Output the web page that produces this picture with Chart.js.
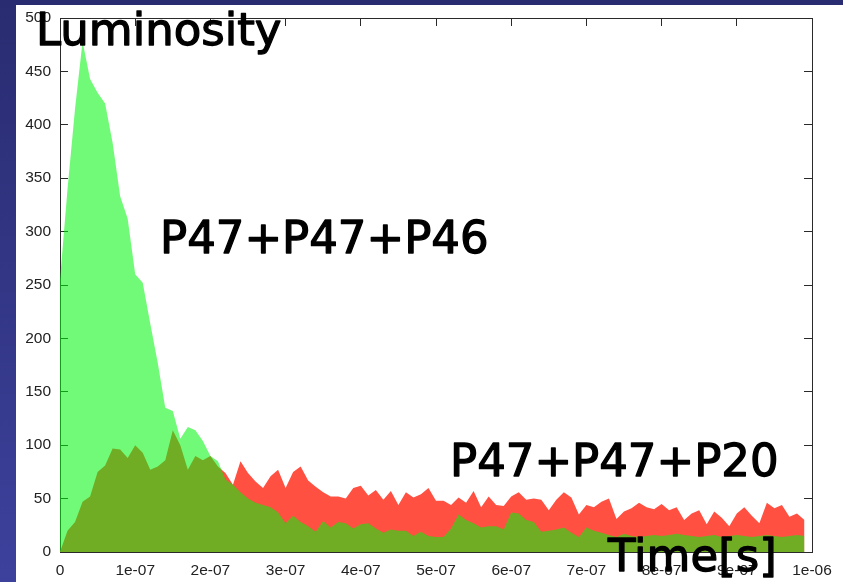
<!DOCTYPE html>
<html>
<head>
<meta charset="utf-8">
<script src="https://cdn.jsdelivr.net/npm/chart.js@4.4.1/dist/chart.umd.min.js"></script>
<style>
    html, body { margin: 0; padding: 0; }
    body {
        width: 843px; height: 582px; overflow: hidden; position: relative;
        background: linear-gradient(#292c70, #3d419c);
    }
    #panel { position: absolute; left: 16px; top: 5px; right: 0; bottom: 0; background: #fff; }
    #chart { position: absolute; left: 0; top: 0; }
</style>
</head>
<body>
<div id="panel"></div>
<canvas id="chart" width="843" height="582"></canvas>
<script>
// sample times in ns
const timesNs = [
    0, 10, 20, 30, 40, 50, 60, 70, 80, 90,
    100, 110, 120, 130, 140, 150, 160, 170, 180, 190,
    200, 210, 220, 230, 240, 250, 260, 270, 280, 290,
    300, 310, 320, 330, 340, 350, 360, 370, 380, 390,
    400, 410, 420, 430, 440, 450, 460, 470, 480, 490,
    500, 510, 520, 530, 540, 550, 560, 570, 580, 590,
    600, 610, 620, 630, 640, 650, 660, 670, 680, 690,
    700, 710, 720, 730, 740, 750, 760, 770, 780, 790,
    800, 810, 820, 830, 840, 850, 860, 870, 880, 890,
    900, 910, 920, 930, 940, 950, 960, 970, 980, 990
];

// P47+P47+P46
const lumP46 = [
    255, 340, 415, 478, 443, 430, 420, 383, 333, 312,
    260, 252, 214, 177, 135, 132, 106, 117, 114, 104,
    90, 85, 68, 63, 56, 50, 46, 44, 42, 37,
    27, 34, 28, 24, 19, 29, 23, 28, 27, 22,
    26, 27, 22, 18, 21, 20, 20, 15, 19, 15,
    14, 14, 22, 35, 30, 27, 23, 24, 24, 21,
    37, 36, 30, 28, 19, 20, 21, 23, 18, 14,
    23, 20, 18, 16, 14, 17, 15, 14, 15, 16,
    15, 16, 17, 16, 15, 14, 15, 16, 14, 15,
    16, 15, 14, 15, 16, 15, 14, 15, 16, 15
];

// P47+P47+P20
const lumP20 = [
    0, 20, 28, 47, 52, 75, 81, 97, 96, 88,
    100, 93, 77, 80, 86, 114, 100, 77, 90, 86,
    90, 80, 74, 63, 85, 74, 66, 60, 71, 77,
    60, 75, 80, 67, 61, 56, 52, 52, 50, 60,
    62, 53, 58, 49, 57, 44, 56, 51, 54, 60,
    48, 48, 44, 51, 46, 57, 42, 52, 44, 43,
    52, 56, 49, 50, 49, 39, 49, 56, 51, 35,
    44, 42, 47, 50, 31, 38, 41, 46, 42, 40,
    45, 39, 42, 30, 36, 39, 26, 38, 32, 24,
    36, 42, 34, 27, 46, 41, 44, 33, 36, 30
];

const xTickLabels = ['0', '1e-07', '2e-07', '3e-07', '4e-07', '5e-07', '6e-07', '7e-07', '8e-07', '9e-07', '1e-06'];
const yTickLabels = ['0', '50', '100', '150', '200', '250', '300', '350', '400', '450', '500'];

const tickFont = { family: "'Liberation Sans', Arial, sans-serif", size: 15.5 };
const frameColor = '#2a2a2a';

function axisBase(min, max, step, position, size) {
    return {
        type: 'linear',
        position: position,
        min: min,
        max: max,
        grid: { drawOnChartArea: false, tickLength: -8, color: frameColor, lineWidth: 1 },
        border: { color: frameColor, width: 1 },
        ticks: { stepSize: step, autoSkip: false, maxRotation: 0, font: tickFont, color: '#222' },
        afterFit: (scale) => {
            if (position === 'left' || position === 'right') scale.width = size;
            else scale.height = size;
            scale.paddingLeft = 0;
            scale.paddingRight = 0;
            scale.paddingTop = 0;
            scale.paddingBottom = 0;
        }
    };
}

const xAxis = axisBase(0, 1000, 100, 'bottom', 30);
xAxis.ticks.callback = (v, i) => xTickLabels[i];
xAxis.ticks.padding = 17;
const x2Axis = axisBase(0, 1000, 100, 'top', 18);
x2Axis.ticks.callback = () => '';
const yAxis = axisBase(0, 500, 50, 'left', 60);
yAxis.ticks.callback = (v, i) => yTickLabels[i];
yAxis.ticks.padding = 17;
const y2Axis = axisBase(0, 500, 50, 'right', 31);
y2Axis.ticks.callback = () => '';

const slideText = [
    { text: 'Luminosity', x: 36, y: 45 },
    { text: 'P47+P47+P46', x: 160, y: 253 },
    { text: 'P47+P47+P20', x: 450, y: 476 },
    { text: 'Time[s]', x: 608, y: 571 }
];

const textPlugin = {
    id: 'slideText',
    afterDraw(chart) {
        const ctx = chart.ctx;
        ctx.save();
        ctx.fillStyle = '#000';
        ctx.strokeStyle = '#000';
        ctx.lineWidth = 1.3;
        ctx.lineJoin = 'round';
        ctx.font = "45px 'DejaVu Sans'";
        ctx.textBaseline = 'alphabetic';
        ctx.textAlign = 'left';
        slideText.forEach(t => {
            ctx.fillText(t.text, t.x, t.y);
            ctx.strokeText(t.text, t.x, t.y);
        });
        ctx.restore();
    }
};

new Chart(document.getElementById('chart'), {
    type: 'line',
    data: {
        datasets: [
            {
                label: 'P47+P47+P46',
                data: timesNs.map((t, i) => ({ x: t, y: lumP46[i] })),
                backgroundColor: 'rgba(0, 246, 12, 0.56)',
                borderColor: 'rgba(0,0,0,0)',
                borderWidth: 0,
                pointRadius: 0,
                tension: 0,
                fill: 'origin'
            },
            {
                label: 'P47+P47+P20',
                data: timesNs.map((t, i) => ({ x: t, y: lumP20[i] })),
                backgroundColor: '#ff5042',
                borderColor: 'rgba(0,0,0,0)',
                borderWidth: 0,
                pointRadius: 0,
                tension: 0,
                fill: 'origin'
            }
        ]
    },
    options: {
        responsive: false,
        animation: false,
        layout: { padding: 0 },
        plugins: {
            legend: { display: false },
            tooltip: { enabled: false }
        },
        scales: { x: xAxis, x2: x2Axis, y: yAxis, y2: y2Axis }
    },
    plugins: [textPlugin]
});
</script>
</body>
</html>
